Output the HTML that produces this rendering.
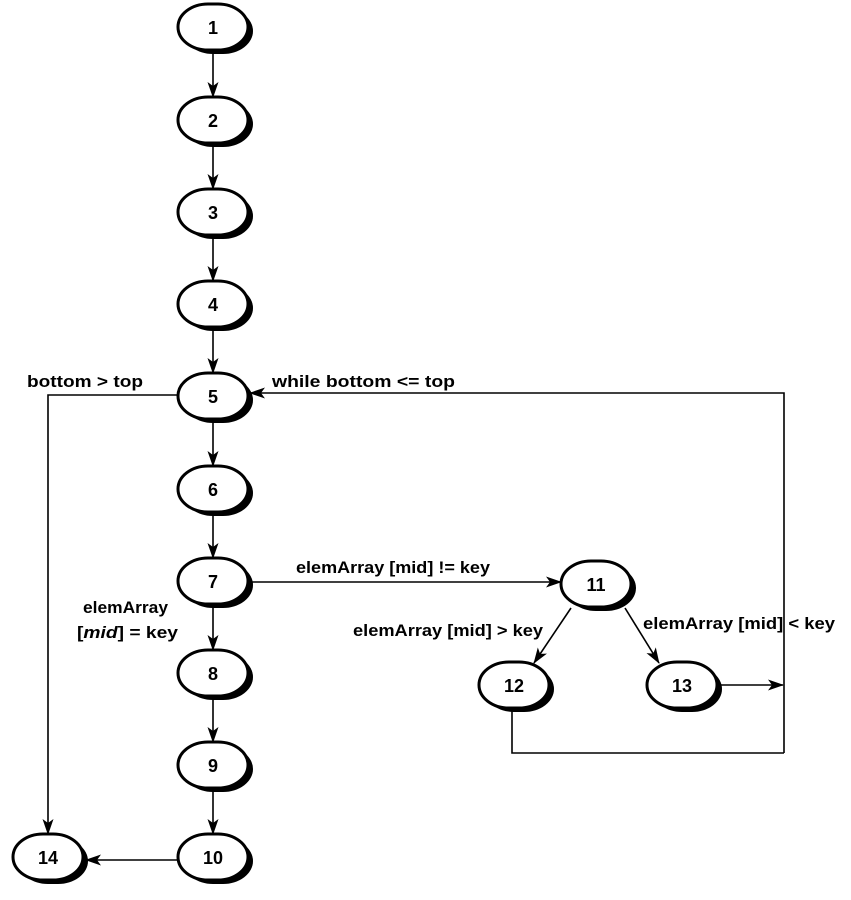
<!DOCTYPE html>
<html><head><meta charset="utf-8"><style>
html,body{margin:0;padding:0;background:#fff;}
svg{display:block;}
text{font-family:"Liberation Sans","DejaVu Sans",sans-serif;fill:#000;}
.n{font-size:18px;font-weight:bold;text-anchor:middle;}
.l{font-size:17px;font-weight:bold;}
</style></head><body>
<svg width="851" height="900" viewBox="0 0 851 900" xmlns="http://www.w3.org/2000/svg">
<defs>
<marker id="a" markerWidth="16" markerHeight="11" refX="15" refY="5.5" orient="auto" markerUnits="userSpaceOnUse">
<path d="M0,0 L16,5.5 L0,11 L4,5.5 Z" fill="#000"/>
</marker>
<g id="node">
<rect x="-30" y="-20" width="70" height="46" rx="30" ry="23" fill="#000"/>
<rect x="-35" y="-24" width="70" height="46" rx="30" ry="23" fill="#fff" stroke="#000" stroke-width="3"/>
</g>
</defs>
<g stroke="#000" stroke-width="1.6" fill="none">
<line x1="213" y1="52" x2="213" y2="97" marker-end="url(#a)"/>
<line x1="213" y1="145" x2="213" y2="189" marker-end="url(#a)"/>
<line x1="213" y1="237" x2="213" y2="281" marker-end="url(#a)"/>
<line x1="213" y1="329" x2="213" y2="373" marker-end="url(#a)"/>
<line x1="213" y1="421" x2="213" y2="466" marker-end="url(#a)"/>
<line x1="213" y1="514" x2="213" y2="558" marker-end="url(#a)"/>
<line x1="213" y1="606" x2="213" y2="650" marker-end="url(#a)"/>
<line x1="213" y1="698" x2="213" y2="742" marker-end="url(#a)"/>
<line x1="213" y1="790" x2="213" y2="834" marker-end="url(#a)"/>
<line x1="178" y1="860" x2="86" y2="860" marker-end="url(#a)"/>
<polyline points="178,395 48,395 48,834" marker-end="url(#a)"/>
<polyline points="784,753 784,393 250,393" marker-end="url(#a)"/>
<polyline points="512,710 512,753 784,753"/>
<line x1="250" y1="582" x2="561" y2="582" marker-end="url(#a)"/>
<line x1="571" y1="608" x2="534" y2="663" marker-end="url(#a)"/>
<line x1="625" y1="608" x2="659" y2="663" marker-end="url(#a)"/>
<line x1="719" y1="685" x2="783" y2="685" marker-end="url(#a)"/>
</g>
<use href="#node" x="213" y="28"/>
<use href="#node" x="213" y="121"/>
<use href="#node" x="213" y="213"/>
<use href="#node" x="213" y="305"/>
<use href="#node" x="213" y="397"/>
<use href="#node" x="213" y="490"/>
<use href="#node" x="213" y="582"/>
<use href="#node" x="213" y="674"/>
<use href="#node" x="213" y="766"/>
<use href="#node" x="213" y="858"/>
<use href="#node" x="48" y="858"/>
<use href="#node" x="596" y="585"/>
<use href="#node" x="514" y="686"/>
<use href="#node" x="682" y="686"/>
<text class="n" x="213" y="34">1</text>
<text class="n" x="213" y="127">2</text>
<text class="n" x="213" y="219">3</text>
<text class="n" x="213" y="311">4</text>
<text class="n" x="213" y="403">5</text>
<text class="n" x="213" y="496">6</text>
<text class="n" x="213" y="588">7</text>
<text class="n" x="213" y="680">8</text>
<text class="n" x="213" y="772">9</text>
<text class="n" x="213" y="864">10</text>
<text class="n" x="48" y="864">14</text>
<text class="n" x="596" y="591">11</text>
<text class="n" x="514" y="692">12</text>
<text class="n" x="682" y="692">13</text>
<text class="l" x="27" y="387" textLength="116" lengthAdjust="spacingAndGlyphs">bottom &gt; top</text>
<text class="l" x="272" y="387" textLength="183" lengthAdjust="spacingAndGlyphs">while bottom &lt;= top</text>
<text class="l" x="296" y="573" textLength="194" lengthAdjust="spacingAndGlyphs">elemArray [mid] != key</text>
<text class="l" x="353" y="636" textLength="190" lengthAdjust="spacingAndGlyphs">elemArray [mid] &gt; key</text>
<text class="l" x="643" y="629" textLength="192" lengthAdjust="spacingAndGlyphs">elemArray [mid] &lt; key</text>
<text class="l" x="83" y="613" textLength="85" lengthAdjust="spacingAndGlyphs">elemArray</text>
<text class="l" x="77" y="638" textLength="101" lengthAdjust="spacingAndGlyphs">[<tspan font-style="italic">mid</tspan>] = key</text>
</svg>
</body></html>
